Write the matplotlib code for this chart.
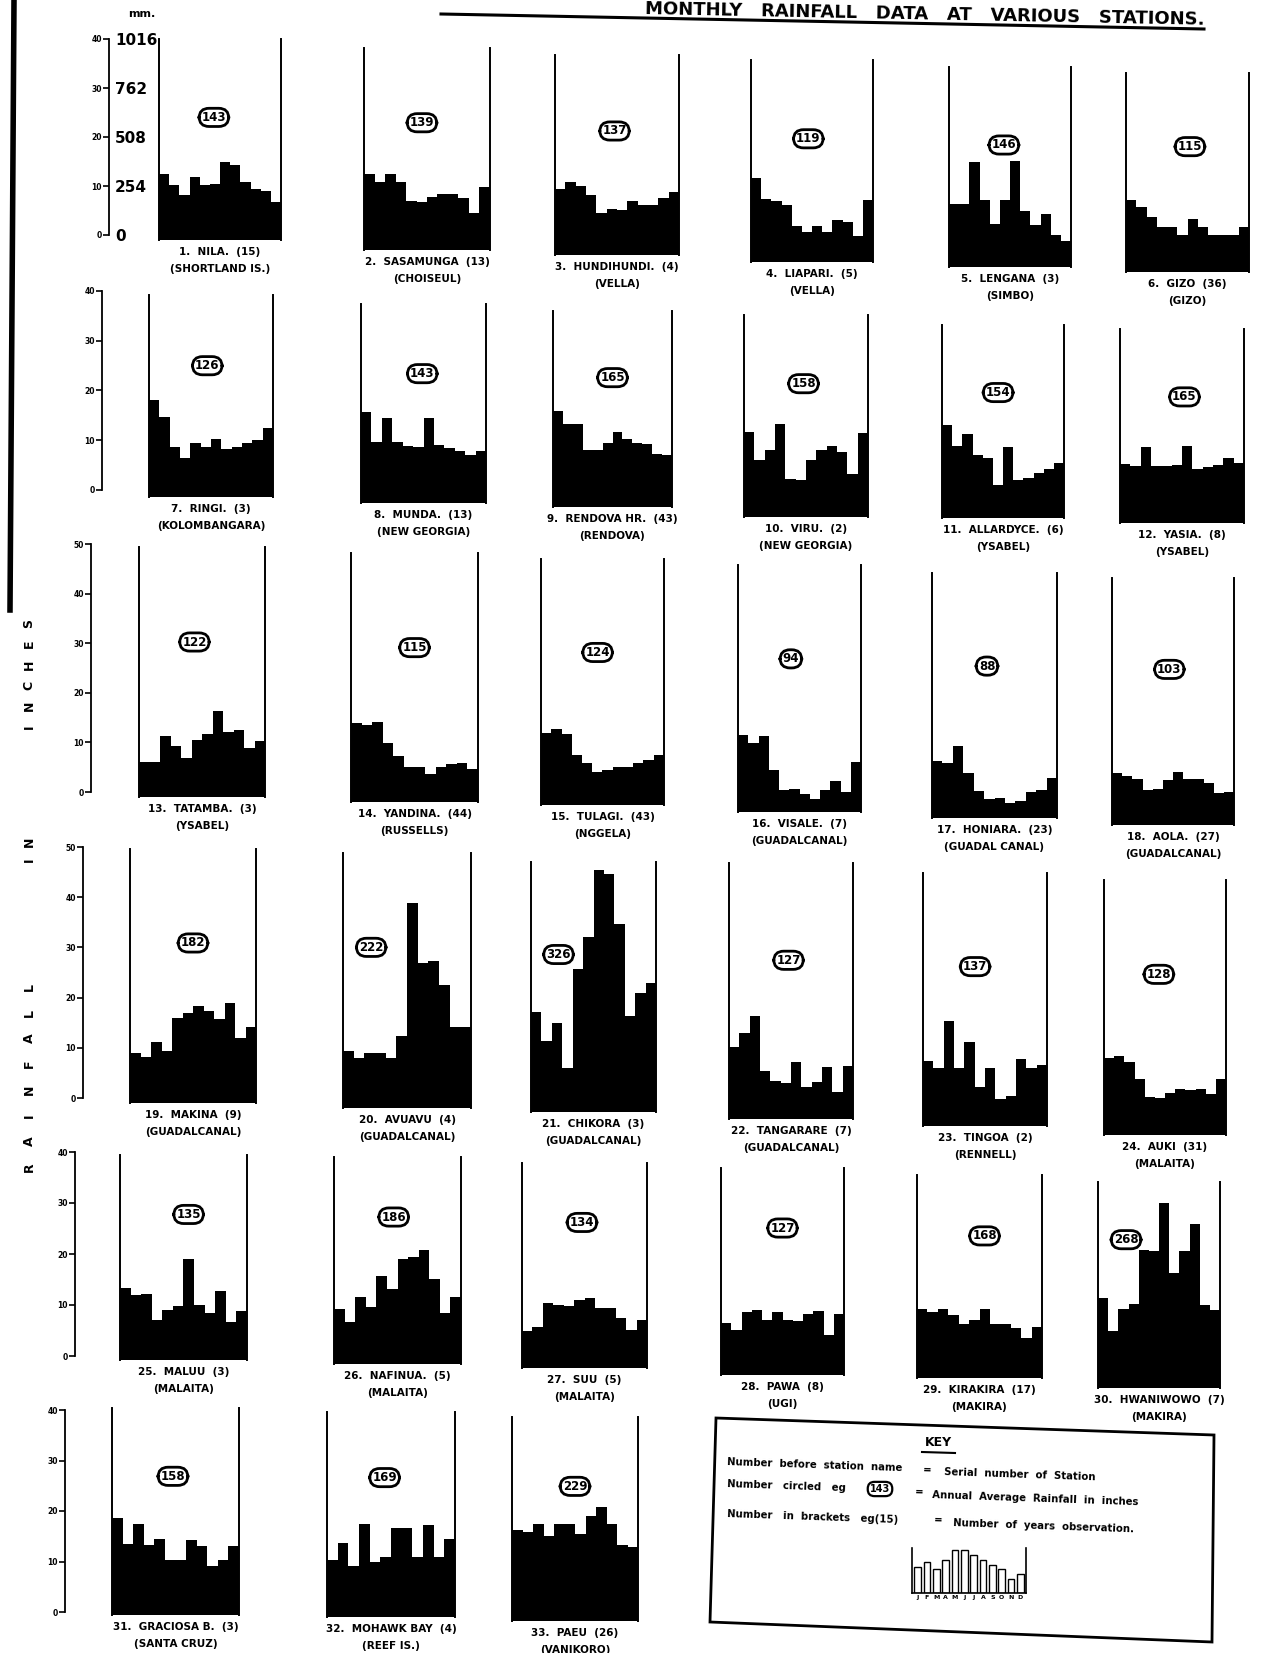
import matplotlib
matplotlib.use("Agg")
import matplotlib.pyplot as plt
from matplotlib.patches import Polygon
from matplotlib.lines import Line2D

plt.rcParams['font.family'] = ['DejaVu Sans']
plt.rcParams['font.weight'] = 'bold'

W, H = 1266, 1653

months = ["J", "F", "M", "A", "M", "J", "J", "A", "S", "O", "N", "D"]

# monthly rainfall in inches
nila = [13.4, 11.2, 9.2, 12.9, 11.2, 11.4, 16.0, 15.3, 11.9, 10.5, 9.9, 7.8]
sasamunga = [15.6, 13.9, 15.6, 13.9, 10.0, 9.7, 10.9, 11.4, 11.4, 10.7, 7.5, 12.9]
hundihundi = [13.5, 15.0, 14.1, 12.2, 8.5, 9.4, 9.2, 11.1, 10.2, 10.2, 11.6, 12.9]
liapari = [17.1, 12.8, 12.4, 11.6, 7.3, 6.1, 7.3, 6.1, 8.5, 8.2, 5.4, 12.6]
lengana = [12.9, 12.9, 21.4, 13.6, 8.8, 13.6, 21.6, 11.4, 8.5, 10.9, 6.5, 5.4]
gizo = [14.6, 13.3, 11.2, 9.2, 9.2, 7.5, 10.9, 9.2, 7.5, 7.5, 7.5, 9.2]
ringi = [19.5, 16.1, 10.1, 7.9, 10.9, 10.1, 11.7, 9.6, 10.1, 10.9, 11.5, 13.9]
munda = [18.3, 12.3, 17.0, 12.3, 11.4, 11.2, 17.0, 11.6, 11.1, 10.4, 9.7, 10.5]
rendova = [19.3, 16.6, 16.6, 11.4, 11.4, 12.8, 15.1, 13.6, 12.8, 12.6, 10.7, 10.5]
viru = [17.0, 11.5, 13.4, 18.7, 7.7, 7.4, 11.5, 13.4, 14.3, 13.1, 8.7, 16.8]
allardyce = [18.7, 14.4, 16.9, 12.6, 12.1, 6.7, 14.3, 7.7, 8.1, 9.1, 9.9, 11.1]
yasia = [11.9, 11.5, 15.3, 11.4, 11.4, 11.7, 15.4, 10.9, 11.2, 11.7, 13.1, 12.1]
tatamba = [7.1, 7.1, 12.3, 10.3, 7.9, 11.4, 12.7, 17.4, 13.1, 13.5, 9.9, 11.3]
yandina = [15.9, 15.5, 16.2, 11.8, 9.2, 7.1, 7.1, 5.7, 7.1, 7.6, 7.9, 6.7]
tulagi = [14.6, 15.3, 14.3, 10.1, 8.4, 6.7, 7.1, 7.7, 7.7, 8.4, 9.1, 10.1]
visale = [15.5, 13.9, 15.3, 8.4, 4.5, 4.7, 3.7, 2.7, 4.4, 6.3, 4.0, 10.0]
honiara = [11.4, 11.1, 14.5, 9.1, 5.4, 3.8, 4.0, 3.0, 3.4, 5.2, 5.6, 8.1]
aola = [10.4, 9.8, 9.3, 7.1, 7.3, 9.1, 10.6, 9.3, 9.3, 8.4, 6.4, 6.7]
makina = [9.9, 9.1, 12.1, 10.3, 16.9, 18.0, 19.4, 18.3, 16.8, 19.9, 13.0, 15.1]
avuavu = [11.4, 9.9, 11.0, 11.0, 9.9, 14.4, 40.9, 28.8, 29.3, 24.5, 16.2, 16.2]
chikora = [19.9, 14.2, 17.7, 8.8, 28.5, 34.9, 48.3, 47.4, 37.4, 19.2, 23.8, 25.6]
tangarare = [14.4, 17.2, 20.5, 9.6, 7.6, 7.1, 11.3, 6.3, 7.3, 10.4, 5.3, 10.6]
tingoa = [13.0, 11.5, 21.0, 11.5, 16.8, 7.7, 11.6, 5.3, 6.0, 13.4, 11.5, 12.1]
auki = [15.4, 15.7, 14.6, 11.1, 7.5, 7.3, 8.3, 9.1, 8.9, 9.1, 8.1, 11.1]
maluu = [14.1, 12.7, 12.9, 7.8, 9.8, 10.6, 19.8, 10.8, 9.3, 13.6, 7.5, 9.6]
nafinua = [10.8, 8.2, 13.2, 11.2, 17.3, 14.7, 20.6, 20.9, 22.4, 16.7, 10.0, 13.1]
suu = [7.3, 8.0, 12.7, 12.4, 12.1, 13.4, 13.7, 11.8, 11.8, 9.8, 7.5, 9.5]
pawa = [10.1, 8.8, 12.4, 12.7, 10.8, 12.3, 10.8, 10.6, 11.9, 12.5, 7.8, 11.9]
kirakira = [13.5, 12.9, 13.5, 12.4, 10.5, 11.4, 13.5, 10.5, 10.5, 9.8, 7.8, 10.0]
hwaniwowo = [17.6, 11.1, 15.4, 16.5, 27.1, 26.9, 36.3, 22.5, 26.9, 32.2, 16.3, 15.2]
graciosa = [19.2, 14.1, 18.0, 13.9, 15.0, 10.9, 10.9, 14.8, 13.6, 9.7, 10.9, 13.6]
mohawk = [11.3, 14.7, 10.1, 18.5, 10.8, 11.9, 17.7, 17.7, 11.9, 18.3, 11.9, 15.4]
paeu = [18.0, 17.7, 19.2, 16.9, 19.2, 19.2, 17.2, 20.8, 22.6, 19.2, 15.0, 14.7]

monthly = [nila, sasamunga, hundihundi, liapari, lengana, gizo,
           ringi, munda, rendova, viru, allardyce, yasia,
           tatamba, yandina, tulagi, visale, honiara, aola,
           makina, avuavu, chikora, tangarare, tingoa, auki,
           maluu, nafinua, suu, pawa, kirakira, hwaniwowo,
           graciosa, mohawk, paeu]

names = ["NILA.", "SASAMUNGA", "HUNDIHUNDI.", "LIAPARI.", "LENGANA", "GIZO",
         "RINGI.", "MUNDA.", "RENDOVA HR.", "VIRU.", "ALLARDYCE.", "YASIA.",
         "TATAMBA.", "YANDINA.", "TULAGI.", "VISALE.", "HONIARA.", "AOLA.",
         "MAKINA", "AVUAVU", "CHIKORA", "TANGARARE", "TINGOA", "AUKI",
         "MALUU", "NAFINUA.", "SUU", "PAWA", "KIRAKIRA", "HWANIWOWO",
         "GRACIOSA B.", "MOHAWK BAY", "PAEU"]
islands = ["SHORTLAND IS.", "CHOISEUL", "VELLA", "VELLA", "SIMBO", "GIZO",
           "KOLOMBANGARA", "NEW GEORGIA", "RENDOVA", "NEW GEORGIA", "YSABEL", "YSABEL",
           "YSABEL", "RUSSELLS", "NGGELA", "GUADALCANAL", "GUADAL CANAL", "GUADALCANAL",
           "GUADALCANAL", "GUADALCANAL", "GUADALCANAL", "GUADALCANAL", "RENNELL", "MALAITA",
           "MALAITA", "MALAITA", "MALAITA", "UGI", "MAKIRA", "MAKIRA",
           "SANTA CRUZ", "REEF IS.", "VANIKORO"]
years = [15, 13, 4, 5, 3, 36, 3, 13, 43, 2, 6, 8, 3, 44, 43, 7, 23, 27,
         9, 4, 3, 7, 2, 31, 3, 5, 5, 8, 17, 7, 3, 4, 26]
annual = [143, 139, 137, 119, 146, 115, 126, 143, 165, 158, 154, 165,
          122, 115, 124, 94, 88, 103, 182, 222, 326, 127, 137, 128,
          135, 186, 134, 127, 168, 268, 158, 169, 229]

key_example = [11, 13, 10, 14, 18, 18, 16, 14, 12, 10, 6, 8]
mm_ticks = [0, 254, 508, 762, 1016]

# layout in pixels: left, right, top, base, circle x / y fraction
panels = [
    (159, 281, 39, 240, .45, .61), (364, 490, 48, 250, .46, .63), (555, 679, 55, 255, .48, .62),
    (751, 873, 60, 262, .47, .61), (949, 1071, 67, 267, .45, .61), (1126, 1249, 73, 272, .52, .63),
    (149, 273, 295, 497, .47, .65), (361, 486, 304, 503, .49, .65), (553, 672, 311, 507, .50, .66),
    (744, 868, 315, 517, .48, .66), (942, 1064, 325, 518, .46, .65), (1120, 1244, 329, 523, .52, .65),
    (139, 265, 547, 797, .44, .62), (351, 478, 553, 802, .50, .62), (541, 664, 559, 805, .46, .62),
    (738, 861, 565, 812, .43, .62), (932, 1057, 573, 818, .44, .62), (1112, 1234, 578, 825, .47, .63),
    (130, 256, 849, 1103, .50, .63), (343, 471, 853, 1108, .22, .63), (531, 656, 862, 1112, .22, .63),
    (729, 853, 863, 1119, .48, .62), (923, 1047, 873, 1126, .42, .63), (1104, 1226, 880, 1135, .45, .63),
    (120, 247, 1155, 1360, .54, .71), (334, 461, 1157, 1364, .47, .71), (522, 647, 1163, 1368, .48, .71),
    (721, 844, 1168, 1375, .50, .71), (917, 1042, 1175, 1378, .54, .70), (1098, 1220, 1182, 1388, .23, .72),
    (112, 239, 1408, 1615, .48, .67), (327, 455, 1412, 1617, .45, .68), (512, 638, 1417, 1621, .50, .66),
]
# row scale axes: x, y of top tick, y of zero, top value
row_axes = [(109, 39, 235, 40), (102, 291, 490, 40), (91, 544, 792, 50),
            (83, 847, 1098, 50), (75, 1152, 1356, 40), (65, 1410, 1612, 40)]


def fx(x):
    return x / W


def fy(y):
    return 1 - y / H


fig = plt.figure(figsize=(W / 100, H / 100), dpi=100)
fig.patch.set_facecolor('white')

# scale axes at the left of each row
ppis = []
for row, (x, ytop, yzero, ymax) in enumerate(row_axes):
    ppis.append((yzero - ytop) / ymax)
    ax = fig.add_axes([fx(x), fy(yzero), 0.0005, (yzero - ytop) / H])
    ax.set_ylim(0, ymax)
    for s in ('top', 'bottom', 'right'):
        ax.spines[s].set_visible(False)
    ax.spines['left'].set_linewidth(1.3)
    ax.set_xticks([])
    ax.set_yticks(range(0, ymax + 1, 10))
    ax.tick_params(axis='y', length=4, width=1.2, labelsize=5.5, pad=1)
    ax.patch.set_visible(False)
    if row == 0:
        sec = ax.secondary_yaxis('right', functions=(lambda v: v * 25.4, lambda v: v / 25.4))
        sec.set_yticks(mm_ticks)
        sec.tick_params(length=0, labelsize=11, pad=4)
        sec.spines['right'].set_visible(False)

# station panels
for i, vals in enumerate(monthly):
    l, r, t, b, cx, cy = panels[i]
    ppi = ppis[i // 6]
    top = (b - t) / ppi
    ax = fig.add_axes([fx(l), fy(b), (r - l) / W, (b - t) / H])
    ax.set_xlim(0, 12)
    ax.set_ylim(0, top)
    ax.stairs(vals, range(13), fill=True, color='black', linewidth=0, baseline=0)
    for s in ('top', 'bottom'):
        ax.spines[s].set_visible(False)
    for s in ('left', 'right'):
        ax.spines[s].set_linewidth(1.4)
    ax.set_xticks([])
    ax.set_yticks([])
    ax.patch.set_visible(False)
    ax.text(cx * 12, cy * top, str(annual[i]), ha='center', va='center', fontsize=8.5,
            bbox=dict(boxstyle='round,pad=0.22,rounding_size=0.85', fc='white', ec='black', lw=2.0))
    xc = fx((l + r) / 2)
    fig.text(xc, fy(b + 12), f"{i + 1}.  {names[i]}  ({years[i]})", ha='center', va='center', fontsize=7.5)
    fig.text(xc, fy(b + 29), f"({islands[i]})", ha='center', va='center', fontsize=7.5)

# title along the tilted underline
fig.text(fx(1204), fy(25), "MONTHLY   RAINFALL   DATA   AT   VARIOUS   STATIONS.", ha='right',
         va='baseline', fontsize=13, rotation=-1.1, rotation_mode='anchor')
fig.add_artist(Line2D([fx(441), fx(1204)], [fy(14), fy(29)], lw=2.2, color='black',
                      transform=fig.transFigure))

fig.text(fx(142), fy(14), "mm.", ha='center', va='center', fontsize=8)

# scan border on the left
fig.add_artist(Line2D([fx(14), fx(10)], [fy(0), fy(610)], lw=4, color='black',
                      transform=fig.transFigure))

# vertical axis title, one letter at a time
for word, y0, y1 in [("RAINFALL", 1167, 987), ("IN", 860, 842), ("INCHES", 727, 623)]:
    n = len(word)
    for k, ch in enumerate(word):
        y = y0 + (y1 - y0) * k / (n - 1)
        fig.text(fx(29), fy(y), ch, ha='center', va='center', fontsize=9, rotation=90)

# key box
box = Polygon([(fx(716), fy(1418)), (fx(1214), fy(1435)), (fx(1212), fy(1642)), (fx(710), fy(1622))],
              closed=True, fill=False, lw=2.0, ec='black', transform=fig.transFigure)
fig.add_artist(box)
fig.text(fx(938), fy(1443), "KEY", ha='center', va='center', fontsize=9)
fig.add_artist(Line2D([fx(922), fx(955)], [fy(1452), fy(1453)], lw=1.5, color='black',
                      transform=fig.transFigure))

key_items = [
    (727, 1462, "Number  before  station  name"),
    (923, 1470, "="),
    (944, 1472, "Serial  number  of  Station"),
    (727, 1484, "Number   circled   eg"),
    (915, 1492, "="),
    (932, 1495, "Annual  Average  Rainfall  in  inches"),
    (727, 1514, "Number   in  brackets   eg(15)"),
    (934, 1520, "="),
    (953, 1523, "Number  of  years  observation."),
]
for x, y, s in key_items:
    fig.text(fx(x), fy(y), s, ha='left', va='center', fontsize=7.3, rotation=-2, rotation_mode='anchor')
fig.text(fx(880), fy(1489), "143", ha='center', va='center', fontsize=7,
         bbox=dict(boxstyle='round,pad=0.22,rounding_size=0.7', fc='white', ec='black', lw=1.6))

kax = fig.add_axes([fx(912), fy(1593), (1026 - 912) / W, (1593 - 1548) / H])
kax.bar(range(12), key_example, width=0.72, color='white', edgecolor='black', linewidth=1.0)
kax.set_xlim(-0.6, 11.6)
kax.set_ylim(0, 19)
kax.spines['top'].set_visible(False)
for s in ('left', 'right', 'bottom'):
    kax.spines[s].set_linewidth(1.2)
kax.set_yticks([])
kax.set_xticks(range(12))
kax.set_xticklabels(months, fontsize=4.5)
kax.tick_params(axis='x', length=0, pad=1.5)
kax.patch.set_visible(False)

fig.savefig("out.png", dpi=100, facecolor='white')
